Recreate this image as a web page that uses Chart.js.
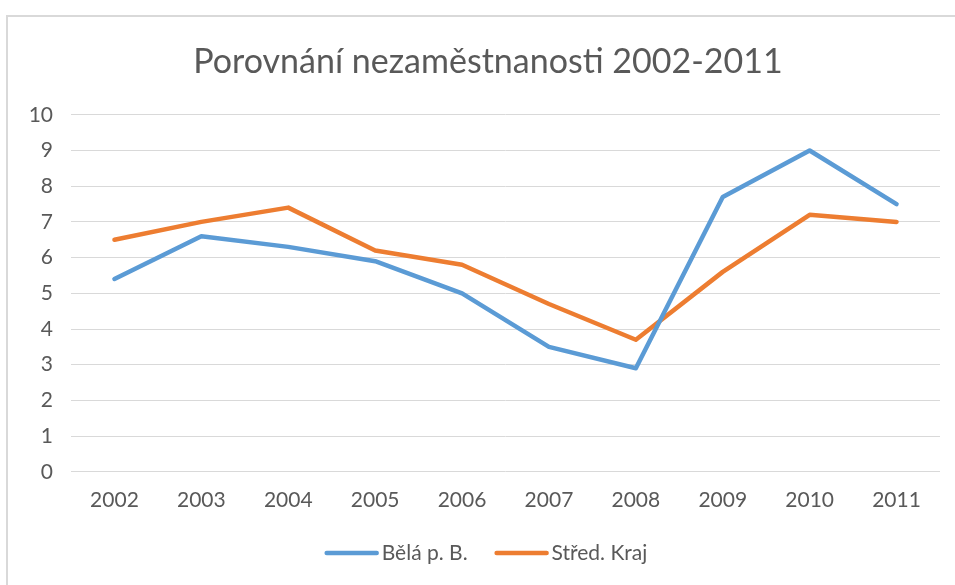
<!DOCTYPE html>
<html>
<head>
<meta charset="utf-8">
<script src="https://cdn.jsdelivr.net/npm/chart.js@4/dist/chart.umd.min.js"></script>
<style>
  html, body { margin: 0; padding: 0; background: #fff; overflow: hidden; width: 955px; height: 585px; }
  #frame { position: absolute; left: 6px; top: 15px; width: 960px; height: 570px;
           border-left: 2px solid #d9d9d9; border-top: 2px solid #d9d9d9; background: #fff; }
  #wrap { position: absolute; left: 0; top: 0; width: 960px; height: 568px; }
</style>
</head>
<body>
<div id="frame"><div id="wrap"><canvas id="c"></canvas></div></div>
<script>
const categories = ["2002","2003","2004","2005","2006","2007","2008","2009","2010","2011"];
const belaValues = [5.4, 6.6, 6.3, 5.9, 5.0, 3.5, 2.9, 7.7, 9.0, 7.5];
const stredValues = [6.5, 7.0, 7.4, 6.2, 5.8, 4.7, 3.7, 5.6, 7.2, 7.0];
const seriesNames = ["Bělá p. B.", "Střed. Kraj"];
const titleText = "Porovnání nezaměstnanosti 2002-2011";

const FONT = "Lato, 'Open Sans', sans-serif";
const TXT = "#595959";

// Legend drawn on the canvas from the chart's datasets (line sample + label)
const lineLegend = {
  id: 'lineLegend',
  afterDraw(chart) {
    const ctx = chart.ctx;
    const fontSize = 21;
    const lineLen = 54, gapText = 3, gapItem = 27;
    ctx.save();
    ctx.font = fontSize + "px " + FONT;
    const items = chart.data.datasets.map(ds => ({
      text: ds.label, color: ds.borderColor, w: ctx.measureText(ds.label).width
    }));
    const total = items.reduce((s, it) => s + lineLen + gapText + it.w, 0) + gapItem * (items.length - 1);
    let x = chart.width / 2 - 2 - total / 2;
    const y = chart.height - 32;
    ctx.textBaseline = 'middle';
    ctx.textAlign = 'left';
    items.forEach(it => {
      ctx.strokeStyle = it.color;
      ctx.lineWidth = 4.5;
      ctx.lineCap = 'round';
      ctx.beginPath();
      ctx.moveTo(x + 2, y);
      ctx.lineTo(x + lineLen - 2, y);
      ctx.stroke();
      x += lineLen + gapText;
      ctx.fillStyle = TXT;
      ctx.fillText(it.text, x, y);
      x += it.w + gapItem;
    });
    ctx.restore();
  }
};

new Chart(document.getElementById('c'), {
  type: 'line',
  data: {
    labels: categories,
    datasets: [
      { label: seriesNames[0], data: belaValues, borderColor: '#5B9BD5', backgroundColor: '#5B9BD5',
        borderWidth: 4.5, pointRadius: 0, pointHoverRadius: 0, tension: 0, borderCapStyle: 'round', borderJoinStyle: 'round' },
      { label: seriesNames[1], data: stredValues, borderColor: '#ED7D31', backgroundColor: '#ED7D31',
        borderWidth: 4.5, pointRadius: 0, pointHoverRadius: 0, tension: 0, borderCapStyle: 'round', borderJoinStyle: 'round' }
    ]
  },
  plugins: [lineLegend],
  options: {
    responsive: true,
    maintainAspectRatio: false,
    animation: false,
    layout: { padding: { left: 0, right: 0, top: 0, bottom: 56 } },
    plugins: {
      title: {
        display: true, text: titleText, color: TXT,
        font: { family: FONT, size: 34, weight: 'normal' },
        padding: { top: 25, bottom: 32 }
      },
      legend: { display: false },
      tooltip: { enabled: false }
    },
    scales: {
      x: {
        offset: true,
        grid: { display: false, drawTicks: false },
        border: { display: false },
        ticks: { color: TXT, font: { family: FONT, size: 21 }, padding: 16, maxRotation: 0 }
      },
      y: {
        min: 0, max: 10,
        grid: { color: '#d9d9d9', lineWidth: 1, drawTicks: false },
        border: { display: false },
        ticks: { stepSize: 1, color: TXT, font: { family: FONT, size: 21 }, padding: 18 },
        afterFit: (s) => { s.width = 63; }
      },
      spacer: {
        type: 'linear', position: 'right', display: true,
        grid: { display: false, drawTicks: false },
        border: { display: false },
        ticks: { display: false },
        afterFit: (s) => { s.width = 28; }
      }
    }
  }
});
</script>
</body>
</html>
